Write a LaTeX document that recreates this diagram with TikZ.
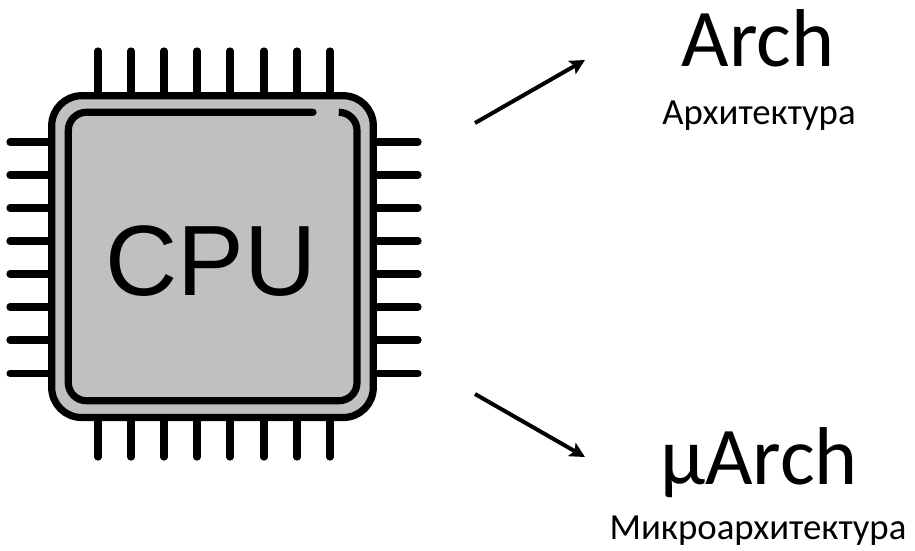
\documentclass[tikz,border=0pt]{standalone}
\usepackage{fontspec}
\setmainfont{Carlito}
\newfontfamily\cpufont{Liberation Sans}
\usetikzlibrary{arrows.meta}
\tikzset{
  x=1pt,y=-1pt,
  pin/.style={line width=7.2pt,line cap=round},
  body/.style={line width=7.2pt,fill=chipgray,rounded corners=30pt},
  inner/.style={line width=7.2pt,line cap=round},
  flow/.style={line width=4pt,-{Stealth[length=15pt,width=15pt,inset=3pt]}},
  big/.style={inner sep=0pt,anchor=base,font=\fontsize{82}{82}\selectfont},
  small/.style={inner sep=0pt,anchor=base,font=\fontsize{36.8}{36.8}\selectfont},
}
\definecolor{chipgray}{RGB}{192,192,192}
\begin{document}
\begin{tikzpicture}
\useasboundingbox (0,0) rectangle (915,550);
\foreach \px in {98,131,164,197,230,264,297,330}{
  \draw[pin] (\px,51) -- (\px,96);
  \draw[pin] (\px,417) -- (\px,457);
}
\foreach \py in {142,175,208,241,274,307,340,373.5}{
  \draw[pin] (10,\py) -- (52,\py);
  \draw[pin] (373,\py) -- (418,\py);
}
\draw[body] (51.7,95.7) rectangle (373.3,417.5);
\draw[inner,rounded corners=18pt] (313,112.3) -- (68.3,112.3) -- (68.3,400.7) -- (357,400.7) -- (357,112.3) -- (340,112.3);
\node[inner sep=0pt,anchor=base,font=\cpufont\fontsize{100}{100}\selectfont] (cpu) at (211,295) {CPU};
\coordinate (a1) at (475,123);
\coordinate (a2) at (585,60);
\coordinate (b1) at (475,394);
\coordinate (b2) at (585,457);
\draw[flow] (a1) -- (a2);
\draw[flow] (b1) -- (b2);
\node[big] (arch) at (758,66) {Arch};
\node[small] (archru) at (759,124) {Архитектура};
\node[big] (uarch) at (759,484) {µArch};
\node[small] (uarchru) at (758,539) {Микроархитектура};
\end{tikzpicture}
\end{document}
